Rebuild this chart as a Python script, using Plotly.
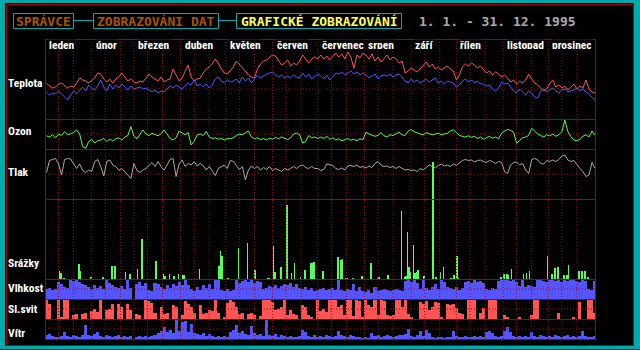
import plotly.graph_objects as go

W, H = 640, 350

# ---------------- data ----------------
MESICE = ["leden", "únor", "březen", "duben", "květen", "červen",
          "červenec", "srpen", "září", "říjen", "listopad", "prosinec"]
ZACATKY_MESICU = [0, 31, 59, 90, 120, 151, 181, 212, 243, 273, 304, 334]
DNU = 365
KROK = 2  # values are 2-day samples

# daily max / min temperature, deg C (2-day samples)
TEPLOTA_MAX = [
    2.8, 1.5, 0.5, 1, 2.5, 3, 1.5, 0.5, 1.5, 1, 3, 5.5, 4.5, 4, 3, 4.5, 5.5, 8, 7.5, 5,
    3.5, 5, 3, 5, 6, 8, 6, 4, 5, 3.5, 3, 4, 3.5, 5.5, 7.5, 6, 5, 4, 6, 3.5, 4.5, 5, 10,
    7, 4, 5.5, 9, 12, 6, 4, 5, 5.5, 8, 10, 11, 12.5, 15, 13, 10, 8, 7.5, 9, 11, 14, 12.5,
    11, 9, 7, 6, 5.5, 10, 12.5, 14, 14.5, 16, 17, 16.5, 14, 12, 13, 14.5, 11.5, 13, 12, 14,
    17, 15, 13, 15, 16, 15,
    17, 15, 16.5, 14.5, 16, 18, 16, 17.5, 15, 18.5, 16, 10.3, 17, 15.5, 18, 17, 15, 17.5,
    14, 16, 13.5, 15.5, 17, 14.5, 16, 15, 13, 14, 8, 9, 10.5, 9.5, 8.5, 10, 12, 13.5, 11,
    12.5, 10, 11, 9.5, 10.5, 11.5, 10, 9, 4.5, 7, 11, 12.5, 11.5, 13, 12, 10.5, 11.5, 9.5,
    8, 9, 7, 8.5, 7.5, 6, 7, 5.5, 3.5, 4.5, 2.5, 4, 3, 4.5, 7.5, 5, 3, 2, 0.5, -1, 0, 3,
    4.5, 1, 2, 0.5, 1.5, -0.5, 1, 2.5, 0, 1.5, 0.5, 4.5, 0, -1.5, -2]
TEPLOTA_MIN = [
    -1.5, -3, -2, -2.5, -1, -2.5, -3.5, -5.5, -3, -1, -2.5, -0.5, 1, -1, 2, 0.5, -0.5, 1.5,
    4.5, 1, -1, 2.5, 0, 2, 0.5, 2.5, 1, -0.5, 1.5, 0, 0.5, 1, 0, 0.5, -0.5, -1.5, -0.5, -2,
    -1, -1.5, 0, 1.5, 0.5, 2, 1, 0, 1.5, 3, 2, 4.5, 1.5, 2.5, 1, 2.5, 0.5, 2, 5, 6, 4, 3,
    4.5, 3.5, 4, 5, 3, 6, 4, 5.5, 3, 5, 7, 5.5, 6.5, 7.5, 8, 8.5, 7, 6, 7, 5.5, 6.5, 5.5, 7,
    6, 5.5, 8, 6, 7.5, 5, 6.5, 7.5,
    6.5, 5, 7, 4.5, 6, 8, 7.5, 8.5, 7, 8, 9, 7.5, 8.5, 7, 8, 7, 5.5, 6.5, 7.5, 5, 6.5, 7,
    6.5, 7.5, 6, 7, 7.5, 6, 4, 3, 5, 3.5, 4.5, 3, 4, 5, 3.5, 4.5, 5.5, 3, 4, 2.5, 4, 3.5, 3,
    1, 2, 4, 5, 3.5, 4.5, 3, 4, 2.5, 2.5, 1.5, 2, 0, -1, 0.5, 3.5, 2.5, 3, 1, -1, -2, 0,
    -1.5, -3, -1, -2, -4, -4.5, -1, 0, -1.5, -0.5, 0.5, -1, -2, -0.5, 0, -1.5, -1, -0.5,
    0.5, -1, 0, -1.5, -2.5, -4, -5.5]

# ozone, DU
OZON = [
    338, 330, 344, 325, 350, 340, 366, 345, 352, 360, 377, 350, 266, 255, 300, 315, 290,
    305, 310, 320, 300, 315, 305, 318, 325, 310, 330, 340, 399, 335, 318, 345, 377, 350,
    340, 355, 345, 338, 352, 377, 350, 320, 310, 325, 370, 355, 345, 360, 277, 300, 345,
    350, 340, 366, 330, 320, 325, 315, 322, 310, 320, 318, 325, 340, 350, 345, 355, 370,
    330, 318, 325, 312, 320, 310, 322, 315, 328, 318, 330, 320, 312, 325, 350, 355, 345,
    290, 300, 340, 325, 330, 320,
    330, 320, 335, 315, 325, 310, 318, 305, 312, 320, 308, 315, 305, 318, 312, 362, 350,
    345, 335, 340, 360, 338, 330, 345, 340, 352, 362, 345, 340, 370, 380, 365, 355, 350,
    345, 358, 352, 345, 350, 355, 345, 350, 355, 370, 377, 360, 340, 335, 330, 338, 328,
    335, 320, 330, 315, 325, 335, 322, 330, 318, 355, 370, 380, 375, 362, 288, 310, 325,
    330, 340, 388, 370, 350, 340, 330, 345, 338, 350, 335, 345, 366, 443, 366, 333, 310,
    305, 315, 335, 345, 330, 370, 340]

# air pressure, hPa
TLAK = [
    1016.5, 1028.5, 1029.5, 1030.5, 1025, 1014, 1029.5, 1030.5, 1030, 1025.5, 1020.5,
    1025, 1018.5, 1016.5, 1019, 1017.5, 1027.5, 1029.5, 1022.5, 1013, 1027.5, 1029, 1024,
    1022.5, 1018.5, 1020.5, 1017.5, 1014, 1010.5, 1025.5, 1018.5, 1016.5, 1019, 1020.5,
    1024, 1026.5, 1022.5, 1027.5, 1022.5, 1019, 1024, 1029.5, 1030.5, 1012.5, 1025, 1029,
    1022.5, 1025.5, 1024, 1027.5, 1023, 1025.5, 1023.5, 1019, 1022.5, 1017.5, 1013.5,
    1020.5, 1022.5, 1024, 1020.5, 1028.5, 1027.5, 1023, 1019.5, 1022.5, 1009, 1019, 1023,
    1020.5, 1022.5, 1019, 1021.5, 1019.5, 1022.5, 1018.5, 1020.5, 1019, 1017.5, 1020.5,
    1019, 1020.5, 1022.5, 1020.5, 1023, 1024, 1021.5, 1020.5, 1022.5, 1020.5, 1020.5,
    1018.5, 1019.5, 1025, 1024, 1023.5, 1020.5, 1019.5, 1021, 1019, 1023, 1023.5, 1022.5,
    1024, 1021.5, 1022.5, 1021, 1023, 1021.5, 1025.5, 1027.5, 1024, 1022.5, 1023, 1021.5,
    1022.5, 1020.5, 1022.5, 1020.5, 1019, 1019.5, 1018.5, 1019, 1017.5, 1020.5, 1019,
    1021.5, 1024, 1022.5, 1021, 1023.5, 1025, 1023, 1024, 1022.5, 1025, 1023.5, 1026.5,
    1028.5, 1029.5, 1028.5, 1029, 1027, 1028.5, 1029, 1027.5, 1026.5, 1028.5, 1027.5,
    1025.5, 1027.5, 1026.5, 1017.5, 1015.5, 1024, 1026.5, 1027, 1024, 1025.5, 1019, 1015.5,
    1029.5, 1030.5, 1029, 1025.5, 1025, 1028.5, 1027.5, 1029, 1027.5, 1029.5, 1033, 1034,
    1029, 1027.5, 1028.5, 1024, 1020.5, 1017.5, 1012.5, 1014, 1026.5, 1020.5]

# precipitation, mm (only days with rain)
SRAZKY_DEN = [9, 10, 12, 22, 23, 30, 38, 44, 46, 53, 56, 61, 64, 73, 78, 79, 82, 85, 88, 91,
              92, 102, 115, 116, 117, 121, 128, 134, 139, 147, 148, 151, 152, 156, 160, 163,
              165, 169, 172, 176, 177, 178, 184, 194, 196, 197, 199, 200, 204, 210, 216, 220,
              221, 227, 236, 238, 239, 240, 241, 242, 244, 245, 246, 247, 251, 257, 259, 262,
              264, 269, 271, 273, 274, 302, 304, 306, 307, 309, 317, 319, 321, 333, 336, 338,
              340, 344, 346, 347, 354, 356, 358, 360]
SRAZKY_MM = [4, 3, 0.5, 7.5, 4, 1, 1, 6.5, 6.5, 3.5, 2.5, 5, 20, 9, 2.5, 1.5, 2.5, 1.5, 2.5, 2,
             2, 5, 6.5, 14, 11.5, 0.5, 15.5, 18, 4.5, 0.5, 0.5, 16.5, 3.5, 6, 37, 3, 8, 1, 4.5,
             8, 8, 8.5, 4, 11, 9.5, 10, 0.5, 0.5, 0.5, 1.5, 8, 0.5, 1, 2, 34, 1, 1.5, 23.5, 6,
             3.5, 17, 3, 3.5, 4.5, 1.5, 58.5, 1, 3.5, 6, 0.5, 2, 11.5, 0.5, 1, 2.5, 2.5, 2, 5,
             2.5, 3, 4, 11.5, 2.5, 5.5, 6, 2, 2, 7, 4, 4, 4, 1]

# relative humidity, %
VLHKOST = [
    50, 55, 45, 50, 85, 75, 60, 55, 95, 90, 100, 85, 75, 70, 60, 50, 70, 55, 65, 50, 100,
    80, 70, 60, 55, 65, 50, 100, 55, None, 75, 85, 65, 80, 45, 40, 80, 75, 60, 50, 70, 55,
    75, 65, 85, 70, 100, 70, 50, 40, 60, 45, 70, 55, 75, 50, 100, 95, 45, 40, 50, 40, 45,
    100, 80, 90, 95, 85, 100, 80, 90, 85, 50, 55, 65, 60, 70, 55, 65, 75, 70, 80, 60, 75,
    55, 50, 60, 45, 55, 40, 45,
    50, 55, 45, 50, 55, 45, 100, 45, 40, 50, 45, 75, 40, 60, 40, 35, 45, 30, 60, 40, 45,
    50, 45, 40, 45, 50, 45, 40, 90, 100, 85, 95, 80, 50, 100, 55, 45, 60, 75, 50, 100, 85,
    60, 55, 50, 60, 45, 55, 85, 90, 80, 95, 85, 90, 80, 50, 45, 55, 50, 90, 100, 95, 100,
    90, 95, 85, 65, 100, 60, 70, 65, 60, 95, 100, 90, 85, 100, 95, 90, 100, 85, 95, 90, 95,
    100, 90, 85, 95, 90, 50, 45, 90]

# sunshine, hours
SLUNCE = [
    10, 7.5, 0, 0, 9.5, 1, 10, 10, 0, 2, 2.5, 0, 2.5, 3, 0, 4, 5, 3.5, 10, 0, 4.5, 5, 7.5, 0,
    7.5, 6, 0, 7.5, 4.5, None, 2.5, 2, 0, 10, 9, 8, 3, 0, 6, 2.5, 3, 0, 7, 6, 0, 2, 9, 7.5,
    6, 3, 0, 7, 2.5, 3, 4.5, 4, 10, 3, 0, 1, 8, 10, 8.5, 6, 2.5, 3, 0, 2.5, 3, 2, 0, 1.5, 10,
    10, 9.5, 8.5, 4.5, 5, 6, 10, 2, 4.5, 2.5, 2, 0, 7, 6, 2, 1, 0, 10,
    4, 5, 3.5, 10, 10, 9.5, 6, 7, 2,
    10, 10, 1.5, 10, 9, 1, 10, 7, 6, 10, 2, 10, 9, 2, 1.5, 2, 10, 9.5, 6, 10, 2.5, 1, 0, 0,
    8.5, 7.5, 9, 4.5, 6, 8.5, 8, 1, 0, 7.5, 7, 7.5, 5.5, 3, 2.5, 0, 10, 9.5, 10, 0, 3, 5.5,
    0, 10, 10, 10, 0, 0, 2, 1, 0, 0, 0, 1, 0, 0, 0, 2, 10, 10, 0, 0, 0, 0, 0, 0, 3, 0, 0, 0,
    0, 1, 0, 8.5, 0, 0, 10, 10, 3]

# wind speed, m/s
VITR = [
    2, 2.5, 1.5, 1, 1, 1.5, 3.5, 1.5, 1, 2, 1.5, 1, 2, 7, 2, 1.5, 2.5, 3.5, 1.5, 1,
    2, 1.5, 1, 1.5, 2, 1, 1.5, 1, 1.5, None, 1, 1.5, 1, 1.5, 1, 1.5, 2, 3, 4, 6,
    3.5, 4.5, 3, 10, 4, 8.5, 9, 3.5, 7.5, 3, 2.5, 2, 3, 1.5, 2.5, 1.5, 1, 1.5, 1, 1.5,
    1, 3.5, 4.5, 7, 3, 4, 2.5, 2, 6.5, 3, 2, 2.5, 1.5, 10, 2, 1.5, 2.5, 1, 2, 1.5,
    1, 1.5, 1, 1, 1.5, 4.5, 3.5, 1.5, 1, 2, 1,
    1.5, 1, 2, 1.5, 1, 1.5, 4, 2, 1.5, 1, 2, 1.5, 1, 1, 0.5, 1, 0.5, 3, 1.5, 2, 1, 1.5, 2,
    1.5, 1, 1.5, 2, 2, 2.5, 5, 1.5, 1, 2, 4, 1.5, 4.5, 3, 1, 0.5, 1, 1, 0.5, 1, 1, 4, 1.5,
    1, 1, 1.5, 1, 1, 1.5, 1, 1.5, 1, 3.5, 4, 3, 1.5, 1, 1.5, 4, 6, 3.5, 1.5, 1, 1.5, 1, 1.5,
    1, 3.5, 1.5, 1, 2, 1.5, 1, 1.5, 1, 2, 1.5, 1, 1.5, 2, 1, 1.5, 1, 1.5, 4, 1.5, 1, 1, 1.5]

# ---------------- styling ----------------
BG_TEAL = "#00AAAA"
DARK_RED = "#AA0000"
RED = "#FF5555"
BLUE = "#5555FF"
GREEN = "#55FF55"
GRAY = "#AAAAAA"
BROWN = "#AA5500"
YELLOW = "#FFFF55"
DOT = "1px,2px"

LEFT, RIGHT = 45, 595

# panel: label, top px, bottom px, axis-domain top px, range, dotted value, label y
PANELY = [
    ("Teplota", 39, 119, 39, [-15, 25], 0, 82.5),
    ("Ozon", 119, 149, 119, [250, 450], 350, 131.5),
    ("Tlak", 149, 199, 149, [990, 1040], 1015, 172),
    ("Srážky", 199, 279, 149, [0, 65], None, 263),
    ("Vlhkost", 279, 299, 279, [0, 100], 50, 288),
    ("Sl.svit", 299, 319, 299, [0, 10], 5, 308.5),
    ("Vítr", 319, 339, 319, [0, 10], 5, 333),
]


def px(x):
    return x / W


def py(y):
    return 1 - y / H


x2 = [KROK * i + KROK / 2 for i in range(len(TEPLOTA_MAX))]
xs = [d + 0.5 for d in SRAZKY_DEN]

fig = go.Figure()

def line(y, color, axis):
    fig.add_trace(go.Scatter(x=x2[:len(y)], y=y, mode="lines", yaxis=axis,
                             line=dict(color=color, width=1), hoverinfo="skip"))

def bars(x, y, color, axis, width):
    fig.add_trace(go.Bar(x=x, y=y, yaxis=axis, width=width,
                         marker=dict(color=color, line=dict(width=0)), hoverinfo="skip"))

line(TEPLOTA_MAX, RED, "y")
line(TEPLOTA_MIN, BLUE, "y")
line(OZON, GREEN, "y2")
line(TLAK, GRAY, "y3")
bars(xs, SRAZKY_MM, GREEN, "y4", 1)
bars(x2[:len(VLHKOST)], VLHKOST, BLUE, "y5", KROK)
bars(x2[:len(SLUNCE)], SLUNCE, RED, "y6", KROK)
bars(x2[:len(VITR)], VITR, BLUE, "y7", KROK)

layout = dict(
    width=W, height=H, autosize=False,
    margin=dict(l=0, r=0, t=0, b=0, pad=0),
    paper_bgcolor=BG_TEAL, plot_bgcolor="rgba(0,0,0,0)",
    showlegend=False, bargap=0,
    xaxis=dict(domain=[px(LEFT), px(RIGHT)], range=[0, DNU], visible=False,
               fixedrange=True),
)
for k, (name, top, bot, atop, rng, mid, ly) in enumerate(PANELY):
    key = "yaxis" if k == 0 else f"yaxis{k + 1}"
    layout[key] = dict(domain=[py(bot), py(atop)], range=rng, visible=False,
                       anchor="x", fixedrange=True)
fig.update_layout(**layout)

shapes = []
# black screen + red frame
shapes.append(dict(type="rect", xref="paper", yref="paper", x0=px(5), x1=px(634),
                   y0=py(346), y1=py(3), fillcolor="#000000", line=dict(width=0),
                   layer="below"))
shapes.append(dict(type="rect", xref="paper", yref="paper", x0=px(6.5), x1=px(633.5),
                   y0=py(345.5), y1=py(4.5), line=dict(color=DARK_RED, width=1),
                   layer="below"))
shapes.append(dict(type="line", xref="paper", yref="paper", x0=0, x1=1,
                   y0=py(349.5), y1=py(349.5), line=dict(color=DARK_RED, width=1),
                   layer="below"))

# title boxes
BOXES = [(13.5, 73.5), (93.5, 218.5), (236.5, 401.5)]
for x0, x1 in BOXES:
    shapes.append(dict(type="rect", xref="paper", yref="paper", x0=px(x0), x1=px(x1),
                       y0=py(28.5), y1=py(13.5), line=dict(color=BG_TEAL, width=1),
                       layer="above"))
for x0, x1 in [(73.5, 93.5), (218.5, 236.5)]:
    shapes.append(dict(type="line", xref="paper", yref="paper", x0=px(x0), x1=px(x1),
                       y0=py(20.5), y1=py(20.5), line=dict(color=BG_TEAL, width=1),
                       layer="above"))

# vertical dotted grid: 1st, 10th, 20th of every month
grid_days = []
for s in ZACATKY_MESICU:
    for off in (0, 9, 19):
        if s + off > 0:
            grid_days.append(s + off)
for d in grid_days:
    shapes.append(dict(type="line", xref="x", yref="paper", x0=d, x1=d,
                       y0=py(199), y1=py(39.5), line=dict(color=DARK_RED, width=1, dash=DOT),
                       layer="below"))
    shapes.append(dict(type="line", xref="x", yref="paper", x0=d, x1=d,
                       y0=py(339), y1=py(199), line=dict(color=DARK_RED, width=1, dash=DOT),
                       layer="above"))

# horizontal dotted reference lines
for k, (name, top, bot, atop, rng, mid, ly) in enumerate(PANELY):
    if mid is None:
        continue
    yref = "y" if k == 0 else f"y{k + 1}"
    shapes.append(dict(type="line", xref="paper", yref=yref, x0=px(LEFT), x1=px(RIGHT),
                       y0=mid, y1=mid, line=dict(color=DARK_RED, width=1, dash=DOT),
                       layer="above" if top >= 279 else "below"))

# solid panel borders
for yb in [39, 119, 149, 199, 279, 299, 319, 339]:
    shapes.append(dict(type="line", xref="paper", yref="paper", x0=px(LEFT), x1=px(RIGHT + 1),
                       y0=py(yb + 0.5), y1=py(yb + 0.5), line=dict(color=DARK_RED, width=1),
                       layer="above"))
for xb in [LEFT, RIGHT]:
    shapes.append(dict(type="line", xref="paper", yref="paper", x0=px(xb + 0.5), x1=px(xb + 0.5),
                       y0=py(340), y1=py(39), line=dict(color=DARK_RED, width=1),
                       layer="above"))

annotations = []
NARROW = ("Liberation Sans Narrow, Roboto Condensed, DejaVu Sans Condensed, "
          "Liberation Sans, Arial, sans-serif")
LABEL_FONT = dict(family=NARROW, size=11.5, color="#FFFFFF")
for name, top, bot, atop, rng, mid, ly in PANELY:
    annotations.append(dict(text=f"<b>{name}</b>", xref="paper", yref="paper", x=px(6),
                            y=py(ly), xanchor="left", yanchor="middle", showarrow=False,
                            font=LABEL_FONT))
for s, m in zip(ZACATKY_MESICU, MESICE):
    annotations.append(dict(text=f"<b>{m}</b>", xref="x", yref="paper", x=s, xshift=3,
                            y=py(44.5), xanchor="left", yanchor="middle", showarrow=False,
                            font=LABEL_FONT, bgcolor="#000000", borderpad=0, height=9))

MONO = "DejaVu Sans Mono, Liberation Mono, monospace"
TITLES = [("SPRÁVCE", 43.5, BROWN), ("ZOBRAZOVÁNI DAT", 156, BROWN),
          ("GRAFICKÉ ZOBRAZOVÁNÍ", 319, YELLOW)]
for t, cx, c in TITLES:
    annotations.append(dict(text=f"<b>{t}</b>", xref="paper", yref="paper", x=px(cx), y=py(21),
                            xanchor="center", yanchor="middle", showarrow=False,
                            font=dict(family=MONO, size=13, color=c)))
annotations.append(dict(text="<b>1. 1. - 31. 12. 1995</b>", xref="paper", yref="paper",
                        x=px(416.5), y=py(21), xanchor="left", yanchor="middle",
                        showarrow=False, font=dict(family=MONO, size=13, color=GRAY)))

fig.update_layout(shapes=shapes, annotations=annotations)
fig.write_html("out.html", config={"displayModeBar": False, "staticPlot": True})
